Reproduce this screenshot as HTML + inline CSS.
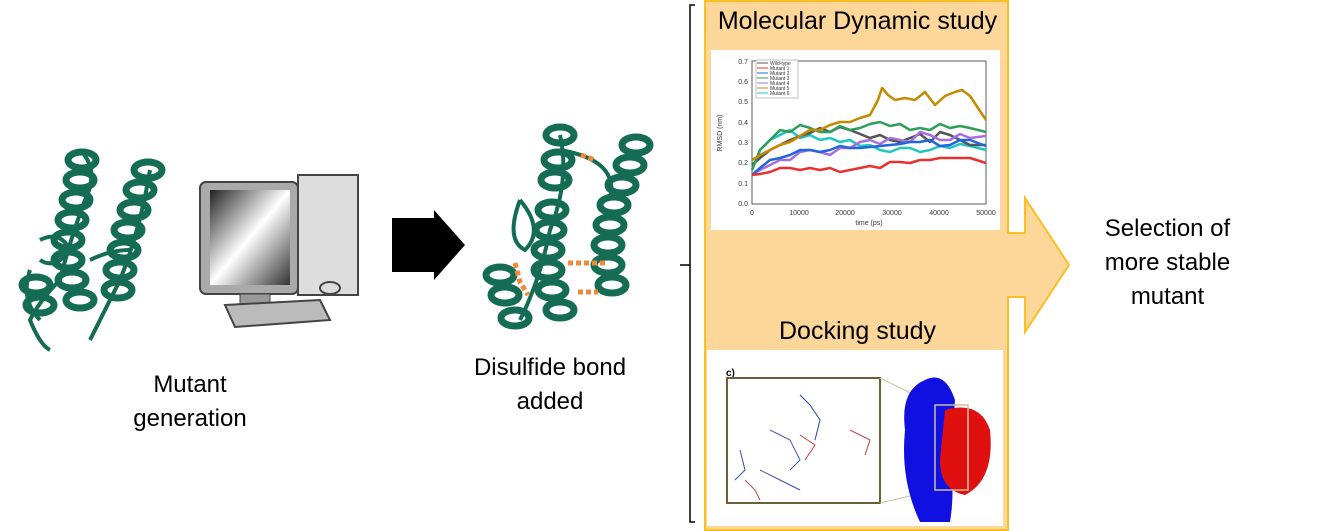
<!DOCTYPE html>
<html><head><meta charset="utf-8"><style>
body{margin:0;width:1328px;height:531px;background:#fff;overflow:hidden;position:relative;font-family:"Liberation Sans",sans-serif}
.t{position:absolute;font-size:24px;color:#000;text-align:center;line-height:34px}
</style></head><body>
<svg width="1328" height="531" style="position:absolute;left:0;top:0">
<defs>
<linearGradient id="scr" x1="0" x2="1" y1="0" y2="1"><stop offset="0" stop-color="#222"/><stop offset="0.5" stop-color="#fff"/><stop offset="1" stop-color="#333"/></linearGradient>
<g id="coil"><ellipse cx="0" cy="0" rx="14" ry="8" fill="none" stroke="#146c54" stroke-width="7"/></g>
</defs>
<!-- protein 1 -->
<g fill="none" stroke="#146c54" stroke-width="4">
<path d="M80 150 Q100 170 85 200 Q70 240 60 280 Q40 300 30 320 Q40 345 50 350"/>
<path d="M150 170 Q140 230 120 280 Q100 320 90 340"/>
<path d="M40 240 Q60 230 70 250 Q55 270 40 260"/>
<path d="M30 270 Q20 300 40 320"/>
<path d="M90 260 Q110 250 130 250"/>
</g>
<g>
<use href="#coil" x="82" y="160"/><use href="#coil" x="80" y="180"/><use href="#coil" x="76" y="200"/><use href="#coil" x="72" y="220"/><use href="#coil" x="68" y="240"/><use href="#coil" x="68" y="260"/><use href="#coil" x="72" y="280"/><use href="#coil" x="80" y="300"/>
<use href="#coil" x="148" y="170"/><use href="#coil" x="140" y="190"/><use href="#coil" x="134" y="210"/><use href="#coil" x="128" y="230"/><use href="#coil" x="124" y="250"/><use href="#coil" x="120" y="270"/><use href="#coil" x="118" y="290"/>
<use href="#coil" x="36" y="285"/><use href="#coil" x="40" y="305"/>
</g>
<!-- computer -->
<rect x="298" y="175" width="60" height="120" fill="#ddd" stroke="#444" stroke-width="2"/>
<rect x="200" y="182" width="98" height="112" rx="6" fill="#aaa" stroke="#444" stroke-width="2"/>
<rect x="210" y="190" width="80" height="95" fill="url(#scr)"/>
<rect x="240" y="294" width="30" height="10" fill="#999" stroke="#444"/>
<polygon points="225,305 320,300 330,320 235,327" fill="#bbb" stroke="#444" stroke-width="2"/>
<ellipse cx="330" cy="288" rx="10" ry="6" fill="#ddd" stroke="#444" stroke-width="2"/>
<!-- black arrow -->
<polygon points="392,218 434,218 434,210 465,245 434,280 434,272 392,272" fill="#000"/>
<!-- protein 2 -->
<g fill="none" stroke="#146c54" stroke-width="4">
<path d="M560 135 Q570 180 550 230 Q540 280 520 320"/>
<path d="M520 200 Q545 230 525 250 Q505 240 520 200"/>
<path d="M560 150 Q620 160 610 200"/>
</g>
<g>
<use href="#coil" x="560" y="135"/><use href="#coil" x="558" y="160"/><use href="#coil" x="555" y="180"/><use href="#coil" x="552" y="210"/><use href="#coil" x="550" y="230"/><use href="#coil" x="548" y="250"/><use href="#coil" x="548" y="270"/><use href="#coil" x="552" y="290"/><use href="#coil" x="560" y="310"/>
<use href="#coil" x="636" y="145"/><use href="#coil" x="630" y="165"/><use href="#coil" x="622" y="185"/><use href="#coil" x="614" y="205"/><use href="#coil" x="610" y="225"/><use href="#coil" x="608" y="245"/><use href="#coil" x="608" y="265"/><use href="#coil" x="612" y="285"/>
<use href="#coil" x="500" y="275"/><use href="#coil" x="505" y="295"/><use href="#coil" x="515" y="318"/>
</g>
<g stroke="#f08a38" stroke-width="5" stroke-dasharray="5,3" fill="none">
<path d="M581 155 L595 160"/><path d="M568 263 L606 263"/><path d="M578 292 L598 292"/><path d="M515 263 L520 282 L528 295"/>
</g>
<!-- bracket -->
<path d="M695 5 L690 5 L690 522 L695 522 M690 265 L680 265" stroke="#000" stroke-width="1.5" fill="none"/>
<!-- orange panel + arrow -->
<path d="M705 1 L1008 1 L1008 233 L1025 233 L1025 198 L1069 265 L1025 332 L1025 297 L1008 297 L1008 530 L705 530 Z" fill="#fdd799" stroke="#fbbf22" stroke-width="2"/>
<rect x="711" y="50" width="289" height="180" fill="#fff"/>
<rect x="707" y="350" width="296" height="176" fill="#fff"/>
<!-- chart -->
<g font-family="Liberation Sans" font-size="7" fill="#333">
<rect x="752" y="61" width="234" height="143" fill="none" stroke="#333" stroke-width="0.8"/>
<text x="748" y="64" text-anchor="end">0.7</text><text x="748" y="84" text-anchor="end">0.6</text><text x="748" y="104" text-anchor="end">0.5</text><text x="748" y="125" text-anchor="end">0.4</text><text x="748" y="145" text-anchor="end">0.3</text><text x="748" y="165" text-anchor="end">0.2</text><text x="748" y="186" text-anchor="end">0.1</text><text x="748" y="206" text-anchor="end">0.0</text>
<text x="752" y="215" text-anchor="middle">0</text><text x="799" y="215" text-anchor="middle">10000</text><text x="845" y="215" text-anchor="middle">20000</text><text x="892" y="215" text-anchor="middle">30000</text><text x="939" y="215" text-anchor="middle">40000</text><text x="986" y="215" text-anchor="middle">50000</text>
<text x="869" y="225" text-anchor="middle">time (ps)</text>
<text x="722" y="133" transform="rotate(-90 722 133)" text-anchor="middle">RMSD (nm)</text>
</g>
<g fill="none" stroke-width="2.5" stroke-linejoin="round">
<polyline stroke="#1fc6c0" points="752,170 760,150 770,140 780,135 790,130 800,138 810,135 820,140 830,138 840,142 850,140 860,146 870,145 880,150 890,152 900,148 910,148 920,152 930,150 940,146 950,148 960,144 970,146 986,150"/>
<polyline stroke="#555" points="752,165 760,158 770,150 780,145 790,140 800,136 810,133 820,128 830,132 840,127 850,130 860,134 870,138 880,135 890,140 900,142 910,138 920,134 930,142 940,132 950,135 960,140 970,145 986,145"/>
<polyline stroke="#2f9e5a" points="752,170 760,150 770,140 780,130 790,132 800,125 810,128 820,132 830,132 840,126 850,130 860,128 870,124 880,122 890,126 900,124 910,130 920,128 930,130 940,124 950,128 960,126 970,128 986,132"/>
<polyline stroke="#c68a00" points="752,160 760,155 770,150 780,145 790,142 800,136 810,130 820,130 830,125 840,122 850,122 860,118 870,115 878,100 882,88 888,95 895,100 905,98 915,100 925,92 935,105 945,96 955,92 962,90 970,96 978,108 986,120"/>
<polyline stroke="#a86ee0" points="752,175 760,170 770,165 780,160 790,160 800,152 810,150 820,152 830,155 840,148 850,148 860,142 870,140 880,144 890,138 900,140 910,142 920,132 930,135 940,140 950,140 960,134 970,138 986,136"/>
<polyline stroke="#2266dd" points="752,175 760,168 770,160 780,158 790,155 800,150 810,150 820,152 830,150 840,146 850,148 860,148 870,147 880,146 890,145 900,144 910,142 920,142 930,140 940,146 950,145 960,140 970,140 986,146"/>
<polyline stroke="#e83030" points="752,175 760,174 770,172 780,168 790,168 800,170 810,168 820,170 830,168 840,172 850,170 860,168 870,166 880,168 890,162 900,162 910,163 920,160 930,160 940,158 950,158 960,158 970,158 986,163"/>
</g>
<rect x="756" y="60" width="42" height="38" fill="#fff" stroke="#999" stroke-width="0.6"/>
<g font-size="5" font-family="Liberation Sans" fill="#333">
<line x1="757" y1="63" x2="768" y2="63" stroke="#555"/><text x="770" y="65">Wild-type</text>
<line x1="757" y1="68" x2="768" y2="68" stroke="#e83030"/><text x="770" y="70">Mutant 1</text>
<line x1="757" y1="73" x2="768" y2="73" stroke="#2266dd"/><text x="770" y="75">Mutant 2</text>
<line x1="757" y1="78" x2="768" y2="78" stroke="#2f9e5a"/><text x="770" y="80">Mutant 3</text>
<line x1="757" y1="83" x2="768" y2="83" stroke="#a86ee0"/><text x="770" y="85">Mutant 4</text>
<line x1="757" y1="88" x2="768" y2="88" stroke="#c68a00"/><text x="770" y="90">Mutant 5</text>
<line x1="757" y1="93" x2="768" y2="93" stroke="#1fc6c0"/><text x="770" y="95">Mutant 6</text>
</g>
<!-- docking -->
<text x="726" y="376" font-family="Liberation Sans" font-size="10" font-weight="bold">c)</text>
<rect x="727" y="378" width="153" height="125" fill="#fff" stroke="#6e5e3a" stroke-width="2"/>
<g fill="none" stroke-width="1">
<path d="M800 395 L810 405 L820 420 L815 440" stroke="#2a3fa8"/>
<path d="M770 430 L790 440 L800 460 L790 470" stroke="#4a5ab8"/>
<path d="M740 450 L745 470 L735 480 M760 470 L780 480 L800 490" stroke="#3a4ab0"/>
<path d="M800 435 L815 445 L805 460 M850 430 L870 440 L865 455 M745 480 L755 490 L760 500" stroke="#c04040"/>
</g>
<path d="M880 378 L935 405 M880 503 L935 490" stroke="#c8c0a0" stroke-width="1"/>
<path d="M925 380 Q900 390 905 430 Q900 480 920 522 L950 522 Q955 490 950 470 L955 400 Q945 370 925 380 Z" fill="#1010e0"/>
<path d="M945 410 Q980 400 990 430 Q995 480 965 495 Q940 490 940 460 Z" fill="#e01010"/>
<rect x="935" y="405" width="33" height="85" fill="none" stroke="#c8c0a0" stroke-width="1.5"/>
</svg>
<div class="t" style="left:705px;top:4px;width:305px;font-size:25px">Molecular Dynamic study</div>
<div class="t" style="left:705px;top:314px;width:305px;font-size:25px">Docking study</div>
<div class="t" style="left:1060px;top:212px;width:215px">Selection of<br>more stable<br>mutant</div>
<div class="t" style="left:100px;top:368px;width:180px">Mutant<br>generation</div>
<div class="t" style="left:450px;top:351px;width:200px">Disulfide bond<br>added</div>
</body></html>
